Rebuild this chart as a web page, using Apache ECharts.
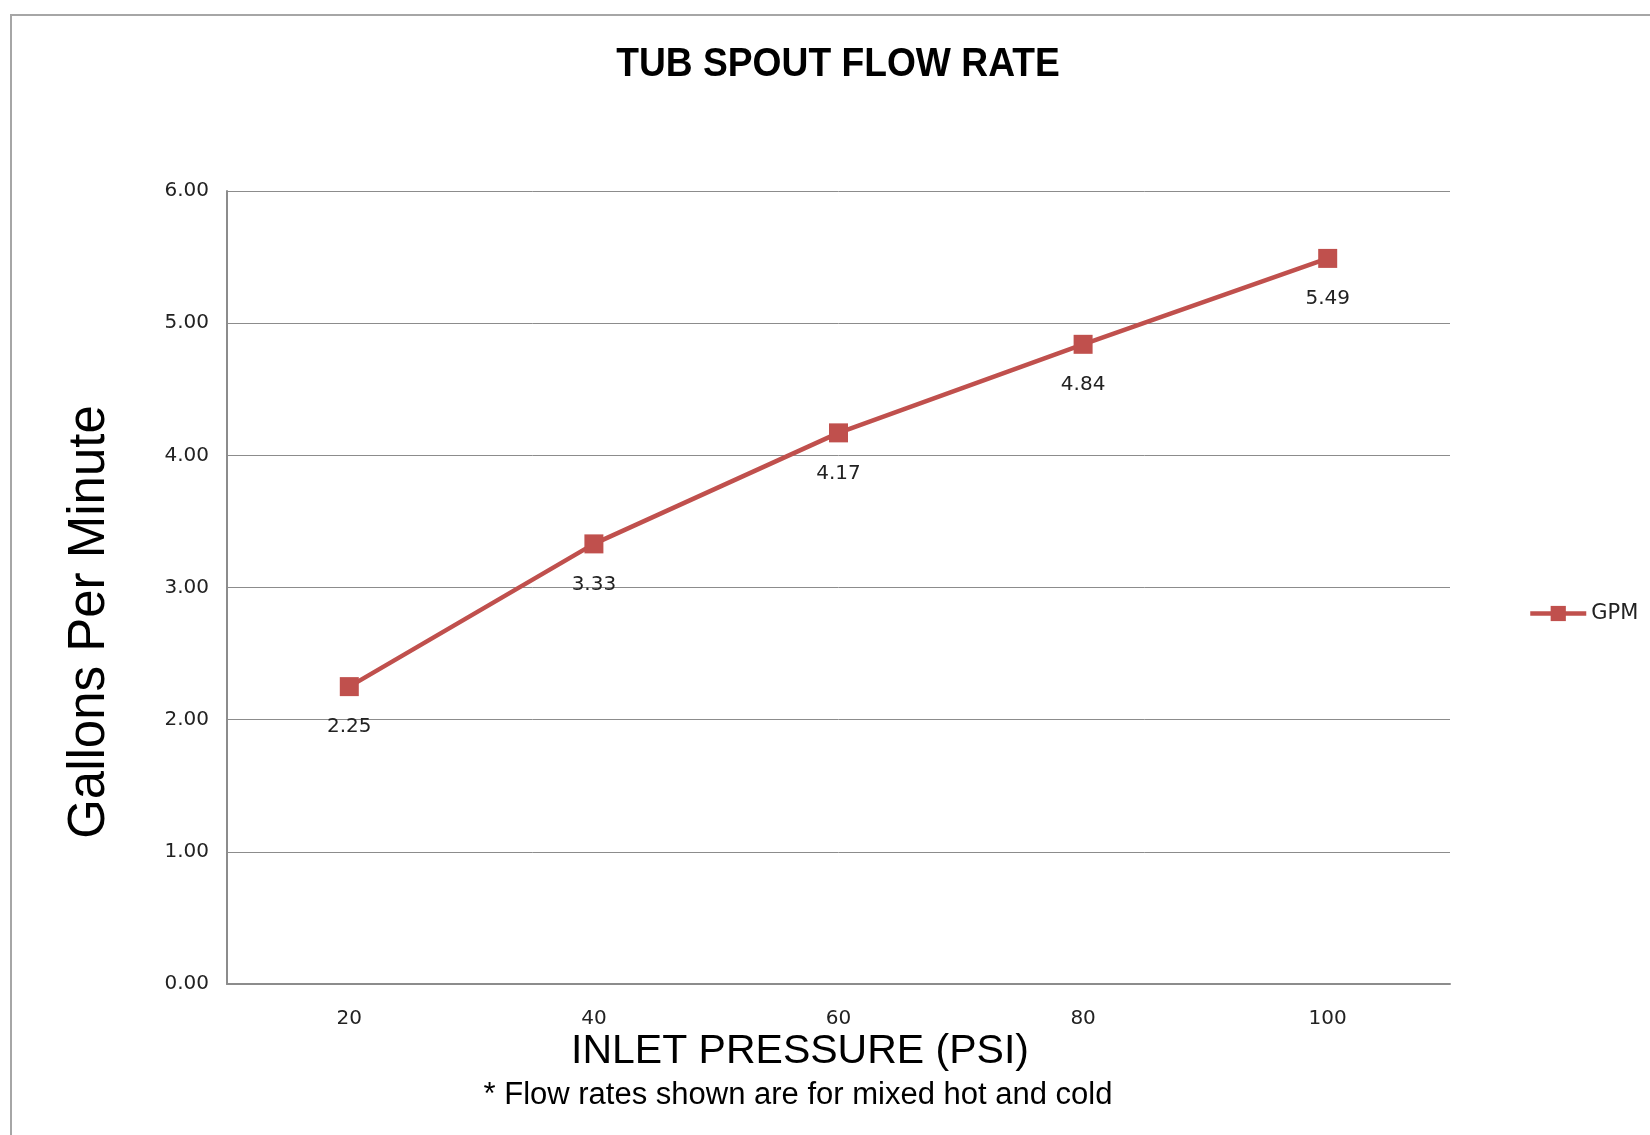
<!DOCTYPE html>
<html>
<head>
<meta charset="utf-8">
<script src="https://cdn.jsdelivr.net/npm/echarts@6/dist/echarts.min.js"></script>
<style>
  html, body { margin: 0; padding: 0; background: #fff; }
  #chart { width: 1650px; height: 1135px; }
</style>
</head>
<body>
<div id="chart"></div>
<script>
const pressures = ['20', '40', '60', '80', '100']
const gpm = [2.25, 3.33, 4.17, 4.84, 5.49]
const seriesName = 'GPM'

const chart = echarts.init(document.getElementById('chart'))

// all the free text sits a bit off the plot centre in the original, so it's drawn as graphics
function label(text, x, y, size, extra) {
  return Object.assign({
    type: 'text',
    x: x,
    y: y,
    silent: true,
    style: {
      text: text,
      fontFamily: 'Liberation Sans',
      fontSize: size,
      fill: '#000',
      align: 'center',
      verticalAlign: 'middle'
    }
  }, extra)
}

const title = label('TUB SPOUT FLOW RATE', 838, 65, 40, { scaleX: 0.93 })
title.style.fontWeight = 'bold'

chart.setOption({
  animation: false,
  backgroundColor: '#fff',
  graphic: [
    {
      type: 'rect',
      shape: { x: 11, y: 15, width: 1700, height: 1200 },
      style: { fill: 'none', stroke: '#a6a6a6', lineWidth: 2 },
      silent: true
    },
    title,
    label('Gallons Per Minute', 90, 622, 51, { rotation: Math.PI / 2 }),
    label('INLET PRESSURE (PSI)', 800, 1052, 41),
    label('* Flow rates shown are for mixed hot and cold', 798, 1095, 31)
  ],
  legend: {
    data: [seriesName],
    left: 1523,
    top: 598,
    itemWidth: 56,
    itemHeight: 19,
    itemGap: 6,
    lineStyle: { width: 4.5 },
    textStyle: { fontFamily: 'DejaVu Sans', fontSize: 21, color: '#222' }
  },
  grid: { left: 227, right: 200, top: 191, bottom: 151, containLabel: false },
  xAxis: {
    type: 'category',
    data: pressures,
    axisLine: { lineStyle: { color: '#8c8c8c', width: 2 } },
    axisTick: { show: false },
    axisLabel: { fontFamily: 'DejaVu Sans', fontSize: 20, color: '#222', margin: 25 }
  },
  yAxis: {
    type: 'value',
    min: 0,
    max: 6,
    interval: 1,
    axisLine: { show: true, lineStyle: { color: '#8c8c8c', width: 2 } },
    axisTick: { show: false },
    axisLabel: {
      fontFamily: 'DejaVu Sans', fontSize: 20, color: '#222', margin: 18,
      padding: [10, 0, 0, 0],
      formatter: v => v.toFixed(2)
    },
    splitLine: { lineStyle: { color: '#8c8c8c', width: 1 } }
  },
  series: [{
    name: seriesName,
    type: 'line',
    data: gpm,
    symbol: 'rect',
    symbolSize: 19,
    lineStyle: { color: '#c0504d', width: 4.5 },
    itemStyle: { color: '#c0504d' },
    label: {
      show: true,
      position: 'bottom',
      distance: 21,
      fontFamily: 'DejaVu Sans',
      fontSize: 20,
      color: '#222',
      formatter: p => p.value.toFixed(2)
    }
  }]
})
</script>
</body>
</html>
